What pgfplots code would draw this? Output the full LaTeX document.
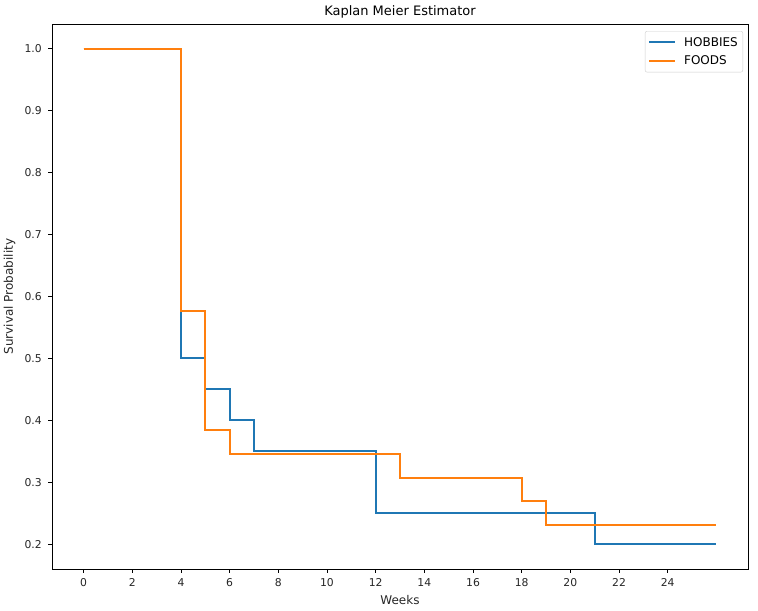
\documentclass[border=0pt]{standalone}
\usepackage{pgfplots}
\pgfplotsset{compat=1.18}
\usepackage{fontspec}
\setmainfont{DejaVu Sans}
\definecolor{c0}{HTML}{1F77B4}
\definecolor{c1}{HTML}{FF7F0E}
\begin{document}
\fontsize{10.5bp}{12bp}\selectfont
\begin{tikzpicture}
\useasboundingbox (-52bp,-42bp) rectangle (706bp,569bp);
\begin{axis}[
  at={(0,0)}, anchor=south west,
  scale only axis, width=696bp, height=545bp,
  xmin=-1.3, xmax=27.3, ymin=0.16, ymax=1.04,
  xtick={0,2,...,24},
  ytick={0.2,0.3,...,1.0},
  yticklabel style={xshift=-3bp, /pgf/number format/fixed, /pgf/number format/fixed zerofill, /pgf/number format/precision=1},
  /pgf/number format/assume math mode=true,
  tick align=outside, tick pos=left,
  major tick length=3.5bp,
  tick style={black, line width=0.8bp},
  axis line style={line width=0.8bp},
  ticklabel style={font=\fontsize{10.8bp}{12bp}\selectfont, color=black!85},
  xticklabel style={yshift=-2bp},
  title={Kaplan Meier Estimator},
  title style={font=\fontsize{13bp}{15bp}\selectfont, yshift=-4bp},
  xlabel={Weeks}, ylabel={Survival Probability},
  label style={font=\fontsize{12bp}{14bp}\selectfont, color=black!85},
  xlabel style={yshift=-2bp},
  ylabel style={yshift=2bp},
  legend style={at={(1,1)}, anchor=north east, xshift=-5bp, yshift=-7bp,
    draw=black!20, rounded corners=2bp, font=\fontsize{12bp}{14bp}\selectfont,
    row sep=4bp, column sep=6bp, inner xsep=3bp, inner ysep=4bp,
    nodes={inner sep=2bp}},
  legend cell align=left,
  legend image code/.code={\draw[#1, line width=2bp] (0bp,0bp) -- (26bp,0bp);},
]
\addplot[const plot, color=c0, line width=2bp] coordinates {
(0,1.0) (4,0.5) (5,0.45) (6,0.4) (7,0.35) (12,0.25) (21,0.2) (26,0.2)};
\addlegendentry{HOBBIES}
\addplot[const plot, color=c1, line width=2bp] coordinates {
(0,1.0) (4,0.5769) (5,0.3846) (6,0.3462) (13,0.3077) (18,0.2692) (19,0.2308) (26,0.2308)};
\addlegendentry{FOODS}
\end{axis}
\end{tikzpicture}
\end{document}
